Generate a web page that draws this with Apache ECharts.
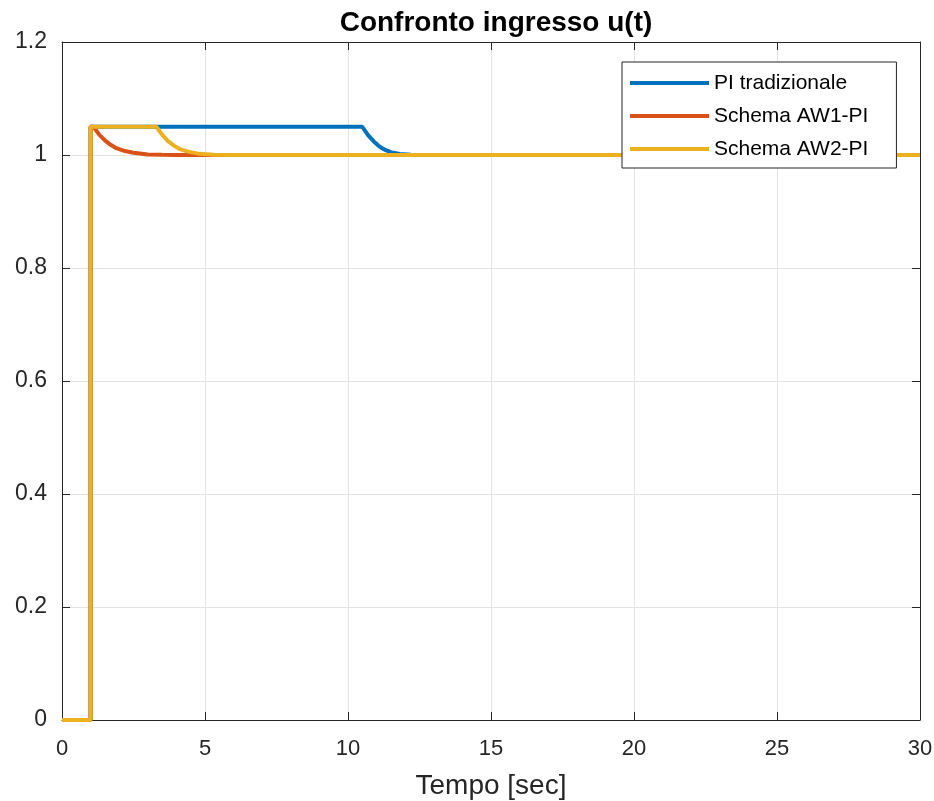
<!DOCTYPE html>
<html><head><meta charset="utf-8">
<script src="https://cdn.jsdelivr.net/npm/echarts@6/dist/echarts.min.js"></script>
<style>html,body{margin:0;padding:0;background:#fff}#c{width:934px;height:801px}</style>
</head><body><div id="c"></div>
<script>
const seriesNames = ['PI tradizionale', 'Schema AW1-PI', 'Schema AW2-PI'];
const seriesColors = ['#0072BD', '#D95319', '#EDB120'];
const xTicks = [0, 5, 10, 15, 20, 25, 30];
const yTicks = [0, 0.2, 0.4, 0.6, 0.8, 1, 1.2];
const piTradizionale = [[0,0],[1,0],[1,1.05],[10.5,1.05],[10.7,1.035],[10.9,1.024],[11.1,1.015],[11.3,1.009],[11.5,1.005],[11.8,1.002],[12.2,1.0005],[13,1],[30,1]];
const aw1 = [[0,0],[1,0],[1,1.05],[1.1,1.05],[1.3,1.036],[1.5,1.026],[1.7,1.018],[1.9,1.012],[2.2,1.007],[2.5,1.004],[3,1.001],[3.5,1.0003],[4,1],[30,1]];
const aw2 = [[0,0],[1,0],[1,1.05],[3.3,1.05],[3.5,1.036],[3.7,1.025],[3.9,1.017],[4.1,1.011],[4.4,1.006],[4.8,1.002],[5.3,1.0005],[6,1],[30,1]];
const allData = [piTradizionale, aw1, aw2];

const FONT = 'Liberation Sans, Arial, sans-serif';
const axisCol = '#262626';
const chart = echarts.init(document.getElementById('c'), null, {renderer: 'canvas'});
const baseAxis = {
  axisLine: {show: true, onZero: false, lineStyle: {color: axisCol, width: 1}},
  axisTick: {show: true, inside: true, length: 8, lineStyle: {color: axisCol}},
  splitLine: {show: false}
};
chart.setOption({
  animation: false,
  backgroundColor: '#fff',
  title: {text: 'Confronto ingresso u(t)', left: 491, textAlign: 'center', top: 4,
    textStyle: {fontFamily: FONT, fontSize: 28, fontWeight: 'bold', color: '#000'}},
  grid: {left: 62, right: 14, top: 42, bottom: 81, containLabel: false, outerBoundsMode: 'none'},
  legend: {
    data: seriesNames, orient: 'vertical', left: 622, top: 62, z: 20,
    backgroundColor: '#fff', borderColor: axisCol, borderWidth: 1, borderRadius: 0,
    padding: [9, 28, 7, 8], itemGap: 9, itemWidth: 79, itemHeight: 4, icon: 'rect',
    textStyle: {fontFamily: FONT, fontSize: 21, color: '#000', lineHeight: 24}
  },
  xAxis: [
    Object.assign({}, baseAxis, {type: 'value', min: 0, max: 30, interval: 5,
      name: 'Tempo [sec]', nameLocation: 'middle', nameGap: 52,
      nameTextStyle: {fontFamily: FONT, fontSize: 28, color: axisCol},
      axisLabel: {fontFamily: FONT, fontSize: 22, color: axisCol, margin: 18},
      splitLine: {show: true, lineStyle: {color: '#e3e3e3', width: 1}}}),
    Object.assign({}, baseAxis, {type: 'value', min: 0, max: 30, interval: 5, position: 'top',
      axisLabel: {show: false}})
  ],
  yAxis: [
    Object.assign({}, baseAxis, {type: 'value', min: 0, max: 1.2, interval: 0.2,
      axisLabel: {fontFamily: FONT, fontSize: 23, color: axisCol, margin: 15,
        formatter: v => String(Math.round(v * 10) / 10)},
      splitLine: {show: true, lineStyle: {color: '#e3e3e3', width: 1}}}),
    Object.assign({}, baseAxis, {type: 'value', min: 0, max: 1.2, interval: 0.2, position: 'right',
      axisLabel: {show: false}})
  ],
  series: seriesNames.map((n, i) => ({
    name: n, type: 'line', data: allData[i], showSymbol: false, symbol: 'none',
    color: seriesColors[i], lineStyle: {width: 4, color: seriesColors[i]},
    itemStyle: {color: seriesColors[i]}, z: 2 + i
  }))
});
</script></body></html>
